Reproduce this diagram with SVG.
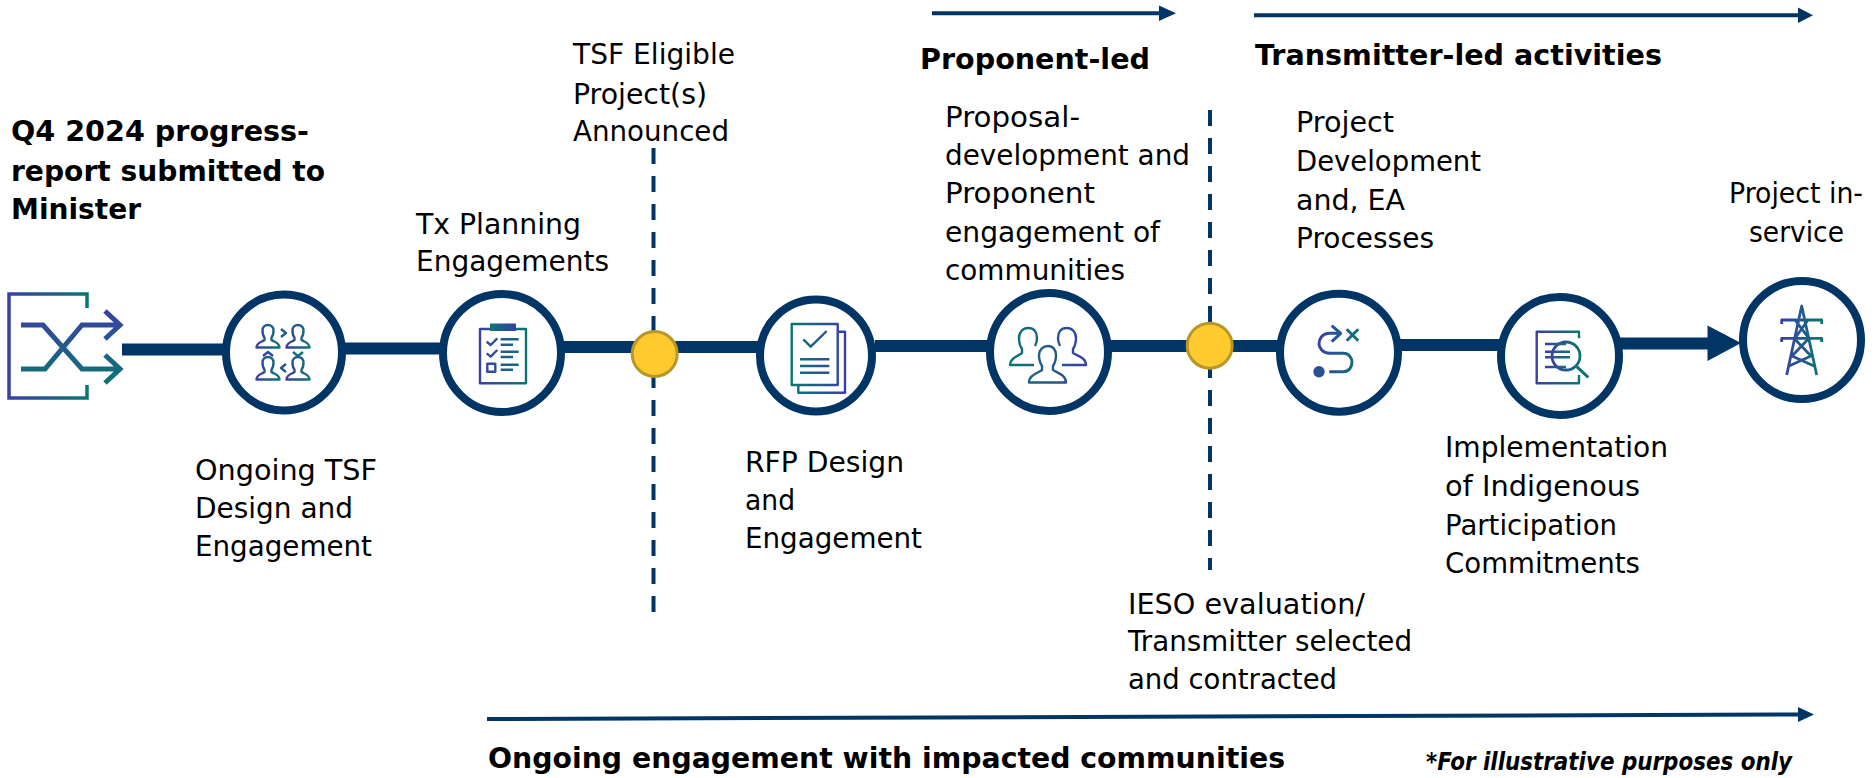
<svg xmlns="http://www.w3.org/2000/svg" width="1876" height="778" viewBox="0 0 1876 778">
<style>
text{font-family:"DejaVu Sans",Verdana,sans-serif;font-size:29px;fill:#000}
.b{font-weight:700}
.n{font-size:25px;font-weight:700;font-style:italic}
.ring{fill:#fff;stroke:#003566;stroke-width:8}
.link{stroke:#003566;stroke-width:12;fill:none}
.thin{stroke:#003566;stroke-width:4;fill:none}
.dash{stroke:#003566;stroke-width:4;stroke-dasharray:16 12;fill:none}
.head{fill:#003566}
.dot{fill:#FFCA2E;stroke:#B8962A;stroke-width:3}
.i{fill:none;stroke:url(#g);stroke-width:2.400;stroke-linejoin:round}
.t{fill:none;stroke:url(#h);stroke-width:2.400;stroke-linejoin:round}
</style>
<defs>
<linearGradient id="g" x1="0" y1="0" x2="1" y2="0"><stop offset="0" stop-color="#3A3FA6"/><stop offset="1" stop-color="#0C7571"/></linearGradient>
<linearGradient id="h" x1="0" y1="0" x2="1" y2="0"><stop offset="0" stop-color="#0C7571"/><stop offset="1" stop-color="#3A3FA6"/></linearGradient>
<linearGradient id="v" x1="0" y1="0" x2="0" y2="1"><stop offset="0" stop-color="#3A3FA6"/><stop offset="1" stop-color="#0C7571"/></linearGradient>
<path id="p" d="M-11.500,22.500H11.500C11.500,17.500 6,17 3.500,15V12.500C5,11 5.500,8 5.500,5.500C5.500,2 3,0 0,0C-3,0 -5.500,2 -5.500,5.500C-5.500,8 -5,11 -3.500,12.500V15C-6,17 -11.500,17.500 -11.500,22.500Z"/>
</defs>
<g id="connectors">
<path class="link" d="M122,349.500H226"/>
<path class="link" d="M342,348.500H444"/>
<path class="link" d="M562,347H800"/>
<path class="link" d="M875,346H990"/>
<path class="link" d="M1108,346H1280"/>
<path class="link" d="M1398,345H1500"/>
<path class="link" d="M1620,343.500H1712"/>
<path class="head" d="M1707.500,325.500L1741,343L1707.500,361Z"/>
<path class="dash" d="M653.500,148V615"/>
<path class="dash" d="M1210,110V570"/>
<path class="thin" d="M932,13.300H1165"/><path class="head" d="M1159,5.500L1176,13.300L1159,21Z"/>
<path class="thin" d="M1254,15.300H1800"/><path class="head" d="M1798,7.500L1813,15.300L1798,23Z"/>
<path class="thin" d="M487,719L1802,714.500"/><path class="head" d="M1798,707L1814,714.500L1798,722Z"/>
</g>
<g id="start-icon">
<path fill="none" stroke="url(#g)" stroke-width="3.500" d="M87,308V294H9V398H87V385"/>
<path fill="none" stroke="url(#v)" stroke-width="5" d="M21,325H43L82,369H119M21,369H45L82,325H119M105,311L120,325L105,339M105,355L120,369L105,383"/>
</g>
<g id="node-tsf-design">
<circle class="ring" cx="284" cy="352.500" r="58"/>
<g class="i"><use href="#p" x="268" y="325"/><use href="#p" x="298" y="325"/><use href="#p" x="268" y="357"/><use href="#p" x="298" y="357"/></g>
<path class="i" d="M281,329L286,333L281,337M263,356L268,352L273,356M293,352L298,356L303,352M286,364L281,368L286,372"/>
<text x="195" y="480" textLength="182" lengthAdjust="spacingAndGlyphs">Ongoing TSF</text>
<text x="195" y="518" textLength="158" lengthAdjust="spacingAndGlyphs">Design and</text>
<text x="195" y="556" textLength="177" lengthAdjust="spacingAndGlyphs">Engagement</text>
</g>
<g id="node-tx-planning">
<circle class="ring" cx="502" cy="353" r="59"/>
<path class="i" d="M490,329H480V383.300H526V329H516M487.300,363.700h8v8h-8zM486.700,341.700L490.700,345L497.300,338.300M486.700,353.300L490.700,356.700L497.300,350M500.700,339.300H518.700M500.700,344.700H513M500.700,351.700H518.700M500.700,357H513M500.700,364.700H518.700M500.700,369.700H513"/>
<rect x="490" y="323.500" width="26" height="7.500" fill="url(#h)"/>
<text x="416" y="234" textLength="165" lengthAdjust="spacingAndGlyphs">Tx Planning</text>
<text x="416" y="271" textLength="193" lengthAdjust="spacingAndGlyphs">Engagements</text>
</g>
<g id="milestone-announced">
<circle class="dot" cx="654.700" cy="354" r="22.500"/>
<text x="573" y="64" textLength="162" lengthAdjust="spacingAndGlyphs">TSF Eligible</text>
<text x="573" y="104" textLength="134" lengthAdjust="spacingAndGlyphs">Project(s)</text>
<text x="573" y="141" textLength="156" lengthAdjust="spacingAndGlyphs">Announced</text>
</g>
<g id="node-rfp">
<circle class="ring" cx="816" cy="355.500" r="56"/>
<path class="t" d="M791.700,324H837.700V385H791.700ZM837.700,331.700H845V392.700H798.300V385M803.300,339.300L810.700,346.700L826.700,331M800,359.300H829.300M800,366H829.300M800,372.700H829.300"/>
<text x="745" y="472" textLength="159" lengthAdjust="spacingAndGlyphs">RFP Design</text>
<text x="745" y="510" textLength="50" lengthAdjust="spacingAndGlyphs">and</text>
<text x="745" y="548" textLength="177" lengthAdjust="spacingAndGlyphs">Engagement</text>
</g>
<g id="node-proposal">
<circle class="ring" cx="1049" cy="352" r="59"/>
<path class="t" d="M1034,365H1010C1010,358 1018,356 1022,353V349C1020,346 1019,342 1019,338C1019,332 1023,328 1028.300,328C1034,328 1037,332 1037,338C1037,341 1036,344 1035,346M1062,365H1086C1086,358 1078,356 1073,353V349C1075,346 1076,342 1076,338C1076,332 1072,328 1066.700,328C1061,328 1058,332 1058,338C1058,341 1059,344 1060,346M1029,382.500H1066C1066,375 1058,373 1053,370V366C1055,363 1056,359 1056,355C1056,350 1053,346 1048,346C1043,346 1039,350 1039,355C1039,359 1040,363 1042,366V370C1038,373 1029,375 1029,382.500Z"/>
<text x="945" y="127" textLength="135" lengthAdjust="spacingAndGlyphs">Proposal-</text>
<text x="945" y="165" textLength="245" lengthAdjust="spacingAndGlyphs">development and</text>
<text x="945" y="203" textLength="150" lengthAdjust="spacingAndGlyphs">Proponent</text>
<text x="945" y="242" textLength="215" lengthAdjust="spacingAndGlyphs">engagement of</text>
<text x="945" y="280" textLength="180" lengthAdjust="spacingAndGlyphs">communities</text>
</g>
<g id="milestone-selected">
<circle class="dot" cx="1209.700" cy="345.700" r="22.500"/>
<text x="1128" y="614" textLength="237" lengthAdjust="spacingAndGlyphs">IESO evaluation/</text>
<text x="1128" y="651" textLength="284" lengthAdjust="spacingAndGlyphs">Transmitter selected</text>
<text x="1128" y="689" textLength="209" lengthAdjust="spacingAndGlyphs">and contracted</text>
</g>
<g id="node-project-dev">
<circle class="ring" cx="1339" cy="352.700" r="59"/>
<circle cx="1319" cy="371.700" r="5.700" fill="#2B4F97"/>
<path class="i" style="stroke-width:3" d="M1329.300,371.700H1343.300C1349,371.700 1352,367 1352,362C1352,358 1349,353.300 1343.300,353.300H1330C1322,353.300 1319,347 1319,344C1319,339 1322,333.300 1330,333.300H1340M1331.700,325.700L1340.700,333.300L1331.700,341.700M1346.700,329.300L1358.300,340.700M1358.300,329.300L1346.700,340.700"/>
<text x="1296" y="132" textLength="98" lengthAdjust="spacingAndGlyphs">Project</text>
<text x="1296" y="171" textLength="185" lengthAdjust="spacingAndGlyphs">Development</text>
<text x="1296" y="210" textLength="109" lengthAdjust="spacingAndGlyphs">and, EA</text>
<text x="1296" y="248" textLength="138" lengthAdjust="spacingAndGlyphs">Processes</text>
</g>
<g id="node-implementation">
<circle class="ring" cx="1560" cy="356" r="59"/>
<path class="i" d="M1579,338.300V331.700H1536.700V383.300H1579V375"/>
<circle class="i" style="stroke-width:2.800" cx="1566" cy="356" r="14"/>
<path class="i" d="M1545,344H1566M1545,351.700H1570M1545,357.300H1570M1545,367H1566"/>
<path fill="none" stroke="#0C7571" stroke-width="3" d="M1576.700,366.700L1588.300,377.300"/>
<text x="1445" y="457" textLength="223" lengthAdjust="spacingAndGlyphs">Implementation</text>
<text x="1445" y="496" textLength="195" lengthAdjust="spacingAndGlyphs">of Indigenous</text>
<text x="1445" y="535" textLength="172" lengthAdjust="spacingAndGlyphs">Participation</text>
<text x="1445" y="573" textLength="195" lengthAdjust="spacingAndGlyphs">Commitments</text>
</g>
<g id="node-in-service">
<circle class="ring" cx="1802" cy="340" r="59"/>
<path class="i" style="stroke-width:2.800" d="M1786.700,375L1801.700,306L1816.700,375M1781.700,324V320H1821.700V324M1781.700,342V338.300H1821.700V342M1795,320L1809,338.300M1808,320L1795,338.300M1794,338.300L1811,356L1789,366M1809,338.300L1792,356L1814,366"/>
<text x="1729" y="203" textLength="134" lengthAdjust="spacingAndGlyphs">Project in-</text>
<text x="1749" y="242" textLength="95" lengthAdjust="spacingAndGlyphs">service</text>
</g>
<g id="labels">
<text class="b" x="11" y="141" textLength="298" lengthAdjust="spacingAndGlyphs">Q4 2024 progress-</text>
<text class="b" x="11" y="181" textLength="314" lengthAdjust="spacingAndGlyphs">report submitted to</text>
<text class="b" x="11" y="219" textLength="130" lengthAdjust="spacingAndGlyphs">Minister</text>
<text class="b" x="920" y="69" textLength="230" lengthAdjust="spacingAndGlyphs">Proponent-led</text>
<text class="b" x="1255" y="65" textLength="407" lengthAdjust="spacingAndGlyphs">Transmitter-led activities</text>
<text class="b" x="488" y="768" textLength="797" lengthAdjust="spacingAndGlyphs">Ongoing engagement with impacted communities</text>
<text class="n" x="1426" y="770" textLength="366" lengthAdjust="spacingAndGlyphs">*For illustrative purposes only</text>
</g>
</svg>
